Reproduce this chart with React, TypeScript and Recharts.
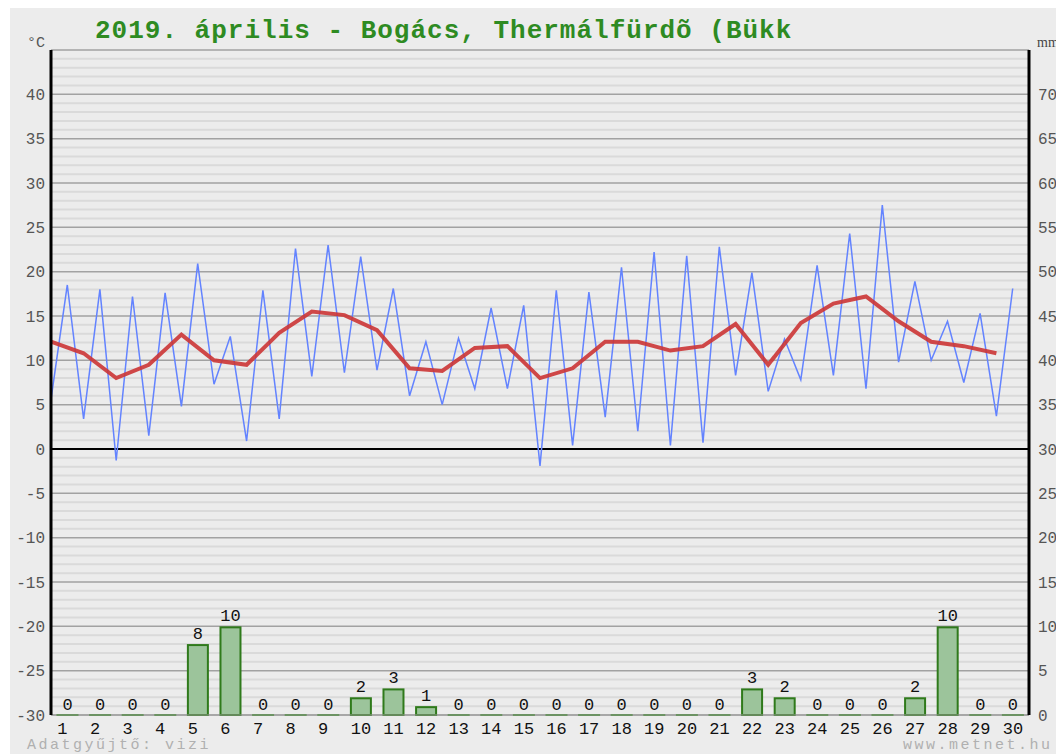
import React from "react";
import {
  ComposedChart,
  Bar,
  Line,
  XAxis,
  YAxis,
  CartesianGrid,
  ReferenceLine,
  LabelList,
} from "recharts";

// April 2019, Bogács – daily values
const days = [
  1, 2, 3, 4, 5, 6, 7, 8, 9, 10, 11, 12, 13, 14, 15, 16, 17, 18, 19, 20, 21,
  22, 23, 24, 25, 26, 27, 28, 29, 30,
];
const tempMin = [
  5.6, 3.4, -1.3, 1.5, 4.8, 7.3, 0.9, 3.4, 8.2, 8.6, 8.9, 6.0, 5.0, 6.8, 6.8,
  -1.9, 0.4, 3.6, 2.0, 0.4, 0.7, 8.3, 6.5, 7.8, 8.3, 6.8, 9.8, 10.0, 7.5, 3.7,
];
const tempMax = [
  18.5, 18.0, 17.2, 17.6, 20.9, 12.7, 17.9, 22.6, 23.0, 21.7, 18.1, 12.1, 12.5,
  15.9, 16.2, 17.9, 17.7, 20.5, 22.2, 21.8, 22.8, 19.9, 12.4, 20.7, 24.3, 27.5,
  18.9, 14.4, 15.3, 18.1,
];
const tempAvg = [
  12.1, 10.8, 8.0, 9.5, 12.9, 10.0, 9.5, 13.1, 15.5, 15.1, 13.4, 9.1, 8.8, 11.4,
  11.6, 8.0, 9.1, 12.1, 12.1, 11.1, 11.6, 14.1, 9.5, 14.2, 16.4, 17.2, 14.4,
  12.1, 11.6, 10.8,
];
const rain = [
  0, 0, 0, 0, 8, 10, 0, 0, 0, 2, 3, 1, 0, 0, 0, 0, 0, 0, 0, 0, 0, 3, 2, 0, 0,
  0, 2, 10, 0, 0,
];

const tempTicks = [-30, -25, -20, -15, -10, -5, 0, 5, 10, 15, 20, 25, 30, 35, 40];
const rainTicks = [0, 5, 10, 15, 20, 25, 30, 35, 40, 45, 50, 55, 60, 65, 70];
const majorLines = [-30, -25, -20, -15, -10, -5, 5, 10, 15, 20, 25, 30, 35, 40, 45];

const minorLines: number[] = [];
for (let v = -29; v < 45; v++) if (v % 5 !== 0) minorLines.push(v);

// two points per day: the minimum at the day's start, the maximum mid-day
const data: any[] = [];
days.forEach((d, i) => {
  data.push({ x: i, temp: tempMin[i], avg: tempAvg[i] });
  data.push({ x: i + 0.5, temp: tempMax[i], rain: rain[i] });
});
const dayTicks = days.map((d) => d - 0.5);

const MONO = '"Liberation Mono", "DejaVu Sans Mono", monospace';
const BAR_W = 22;

const RainBar = (p: any) => {
  if (p.payload?.rain == null || isNaN(p.y)) return null;
  const { x, y, width, height } = p;
  const left = x + width / 2 - BAR_W / 2;
  if (!height || height < 1) {
    return (
      <line x1={left} x2={left + BAR_W} y1={y} y2={y} stroke="#3f8c2c" strokeWidth={2} />
    );
  }
  return (
    <rect
      x={left + 1}
      y={y + 1}
      width={BAR_W - 2}
      height={height - 1}
      fill="#9cc49b"
      stroke="#2f7a1b"
      strokeWidth={2}
    />
  );
};

const DayTick = (p: any) => (
  <text
    x={p.x - 10}
    y={p.y}
    dy={11}
    textAnchor="start"
    fontFamily={MONO}
    fontSize={17}
    fill="#111"
  >
    {p.payload.value + 0.5}
  </text>
);

export default function App() {
  return (
    <div
      style={{
        position: "fixed",
        left: 10,
        top: 8,
        width: 1046,
        height: 746,
        background: "#ececec",
      }}
    >
      <ComposedChart
        width={1046}
        height={746}
        data={data}
        margin={{ top: 42, right: 0, bottom: 0, left: 0 }}
      >
        <CartesianGrid
          yAxisId="t"
          vertical={false}
          horizontalValues={minorLines}
          stroke="#dadada"
          strokeWidth={2}
        />
        <CartesianGrid
          yAxisId="t"
          vertical={false}
          horizontalValues={majorLines}
          stroke="#a2a2a2"
          strokeWidth={1.5}
        />
        <XAxis
          dataKey="x"
          type="number"
          domain={[0, 30]}
          ticks={dayTicks}
          interval={0}
          height={39}
          axisLine={{ stroke: "#9a9a9a" }}
          tickLine={false}
          tick={<DayTick />}
        />
        <YAxis
          yAxisId="t"
          domain={[-30, 45]}
          ticks={tempTicks}
          interval={0}
          width={41}
          axisLine={{ stroke: "#000", strokeWidth: 3 }}
          tickLine={false}
          tickSize={4}
          tickMargin={2}
          tick={{ fontFamily: MONO, fontSize: 16, fill: "#555" }}
        />
        <YAxis
          yAxisId="mm"
          orientation="right"
          domain={[0, 75]}
          ticks={rainTicks}
          interval={0}
          width={27}
          axisLine={{ stroke: "#000", strokeWidth: 3 }}
          tickLine={false}
          tickSize={6}
          tickMargin={3}
          tick={{ fontFamily: MONO, fontSize: 16, fill: "#555" }}
        />
        <ReferenceLine yAxisId="t" y={0} stroke="#000" strokeWidth={2} />
        <Bar
          yAxisId="mm"
          dataKey="rain"
          barSize={22}
          shape={<RainBar />}
          isAnimationActive={false}
        >
          <LabelList
            dataKey="rain"
            position="top"
            offset={5}
            fill="#111"
            fontFamily={MONO}
            fontSize={17}
          />
        </Bar>
        <Line
          yAxisId="t"
          dataKey="temp"
          stroke="#6383ff"
          strokeWidth={1.5}
          dot={false}
          isAnimationActive={false}
        />
        <Line
          yAxisId="t"
          dataKey="avg"
          stroke="#cc3535"
          strokeOpacity={0.9}
          strokeWidth={4}
          dot={false}
          connectNulls
          isAnimationActive={false}
        />
      </ComposedChart>
      <svg
        width={1046}
        height={746}
        style={{ position: "absolute", left: 0, top: 0, pointerEvents: "none" }}
      >
        <text
          x={85}
          y={30}
          fontFamily={MONO}
          fontSize={26}
          fontWeight="bold"
          letterSpacing={1}
          fill="#2e8b22"
        >
          2019. április - Bogács, Thermálfürdõ (Bükk
        </text>
        <text x={17} y={39} fontFamily={MONO} fontSize={15} fill="#555">
          °C
        </text>
        <text x={1027} y={39} fontFamily='"Liberation Serif", serif' fontSize={14} fill="#444">
          mm
        </text>
        <text x={17} y={741} fontFamily={MONO} fontSize={15} letterSpacing={2.5} fill="#b0b0b0">
          Adatgyűjtő: vizi
        </text>
        <text x={893} y={741} fontFamily={MONO} fontSize={15} letterSpacing={2.5} fill="#b0b0b0">
          www.metnet.hu
        </text>
      </svg>
    </div>
  );
}
